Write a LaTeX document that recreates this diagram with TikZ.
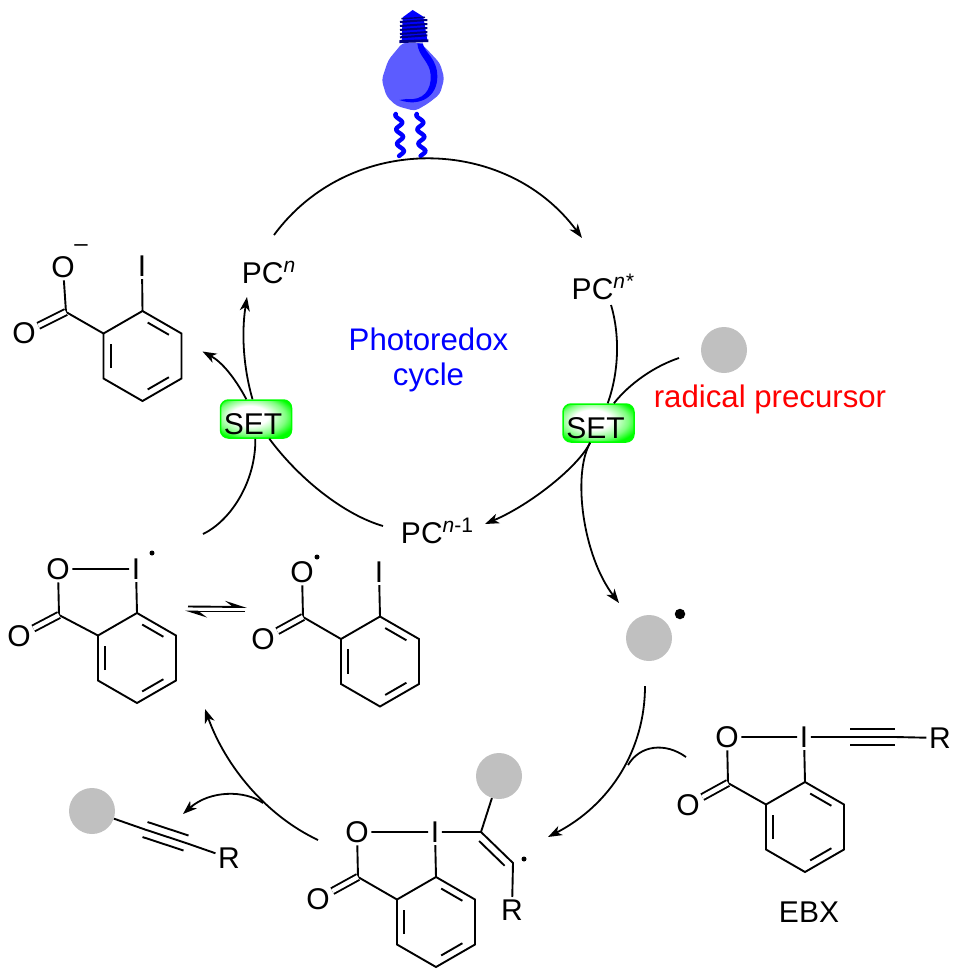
\documentclass[tikz,border=0pt]{standalone}
\usepackage{fontspec}
\setmainfont{Liberation Sans}
\usepackage{xcolor}
\usetikzlibrary{arrows.meta,calc}
\definecolor{blobgray}{RGB}{192,192,192}
\definecolor{bulbblue}{RGB}{92,92,255}
\newcommand{\labelfont}{\fontsize{30}{34}\selectfont}
\newcommand{\notefont}{\fontsize{31.2}{35}\selectfont}
\newcommand{\pcsup}[1]{\raisebox{11pt}{\fontsize{21}{21}\selectfont #1}}
\newcommand{\settext}{\raisebox{-15.25pt}[0pt][0pt]{SET}\kern6pt}
\pgfdeclareradialshading{setglow}{\pgfpoint{-6bp}{6bp}}{
  color(0bp)=(white); color(13bp)=(white); color(24bp)=(green!50!white);
  color(31bp)=(green); color(50bp)=(green)}
\tikzset{
  atom/.style={inner sep=2.5pt, font=\labelfont},
  pc state/.style={inner sep=1pt, font=\labelfont},
  caption/.style={anchor=base, inner sep=0pt, font=\labelfont},
  note/.style={caption, font=\notefont},
  blob/.style={circle, fill=blobgray, minimum size=46pt, inner sep=0pt},
  rad dot/.style={circle, fill=black, minimum size=5pt, inner sep=0pt},
  set box/.style={
    rectangle,
    rounded corners=8pt,
    minimum width=71pt,
    minimum height=38pt,
    inner sep=0pt,
    line width=1.5pt,
    draw=green,
    shading=setglow,
    font=\labelfont,
  },
  bond/.style={line width=1.9pt, line join=miter},
  inner bond/.style={bond, shorten <=6pt, shorten >=6pt},
  carbonyl/.style={line width=1.9pt, double, double distance=4.4pt},
  cycle line/.style={line width=1.8pt},
  cycle arrow/.style={cycle line, -{Stealth[length=14pt,width=10pt,inset=4pt]}},
  eq arrow/.style={line width=1.9pt, -{Stealth[harpoon,length=19pt,width=12pt,inset=8pt]}},
  light wave/.style={blue, line width=4.4pt, line cap=round, smooth},
}
% six carbons of a benzene ring, top vertex first
\newcommand{\benzring}[3]{
  \coordinate (#1o) at (#2,#3);
  \coordinate (#1a) at (#2,#3-45);
  \coordinate (#1b) at (#2+39,#3-22.5);
  \coordinate (#1c) at (#2+39,#3+22.5);
  \coordinate (#1d) at (#2,#3+45);
  \coordinate (#1e) at (#2-39,#3+22.5);
  \coordinate (#1f) at (#2-39,#3-22.5);
  \draw[bond] (#1a) -- (#1b) -- (#1c) -- (#1d) -- (#1e) -- (#1f) -- cycle;
  \draw[inner bond] ($(#1o)!.81!(#1a)$) -- ($(#1o)!.81!(#1b)$);
  \draw[inner bond] ($(#1o)!.81!(#1c)$) -- ($(#1o)!.81!(#1d)$);
  \draw[inner bond] ($(#1o)!.81!(#1e)$) -- ($(#1o)!.81!(#1f)$);
}
\begin{document}
\begin{tikzpicture}[x=1pt,y=-1pt]
  \useasboundingbox (0,0) rectangle (961,977);

  % lamp
  \begin{scope}[shift={(340,0)},x=.3333pt,y=-.3333pt]
    \fill[bulbblue,rounded corners=4pt] (188,128) -- (240,128) -- (265,152) -- (300,190) -- (313,235)
      -- (300,282) -- (265,310) -- (225,333) -- (170,318) -- (140,290) -- (125,240) -- (145,180) -- cycle;
    \fill[blue] (232,130) -- (248,130) .. controls (255,160) and (292,175) .. (292,230)
      .. controls (292,290) and (240,322) .. (178,300)
      -- (200,297) .. controls (250,303) and (275,270) .. (272,225)
      .. controls (270,185) and (235,170) .. (232,130) -- cycle;
    \fill[blue] (188,52) -- (218,30) -- (250,50) -- (262,120) -- (185,125) -- cycle;
    \foreach \yy in {66,78,90,102,112} {
      \draw[blue!50!black,line width=2pt] (180,\yy) -- (262,\yy-6);
    }
    \draw[blue!50!black,line width=2.8pt] (178,125) -- (265,122);
    \draw[blue!50!black,line width=1.4pt] (184,56) -- (255,52);
  \end{scope}
  \draw[light wave] plot[domain=0:1,samples=49] ({398.5+2.5*\x+3.2*cos(1059*\x-212)},{114+42*\x});
  \draw[light wave] plot[domain=0:1,samples=49] ({419.5+3*\x+3.2*cos(1059*\x-212)},{114+42*\x});

  % photocatalyst states
  \node[pc state] (pcn) at (268.5,272) {PC\pcsup{\itshape n}};
  \node[pc state] (pcx) at (602.5,287) {PC\pcsup{\itshape n*}};
  \node[pc state] (pcm) at (437,531) {PC\pcsup{{\itshape n}-1}};
  \node[set box] (setl) at (256,419) {\settext};
  \node[set box] (setr) at (598.5,423) {\settext};
  \node[note,blue] (photo) at (428.5,350) {Photoredox};
  \node[note,blue] (cyc) at (428.5,385) {cycle};
  \node[blob] (prec) at (724,350) {};
  \node[note,red] (precname) at (770,407) {radical precursor};
  \node[blob] (rad) at (649,638) {};
  \node[rad dot,minimum size=10.5pt] (raddot) at (680,614) {};

  % 2-iodobenzoate
  \benzring{io}{142.5}{356}
  \coordinate (iocar) at (66,312);
  \node[atom] (ioo) at (63,267) {O};
  \node[atom] (iooo) at (24,333) {O};
  \node[atom] (ioi) at (142,266) {I};
  \node[inner sep=0pt,font=\fontsize{24}{24}\selectfont] (iominus) at (81,248) {–};
  \draw[bond] (iof) -- (iocar) -- (ioo);
  \draw[carbonyl] (iocar) -- (iooo);
  \draw[bond] (ioa) -- (ioi);

  % cyclic iodanyl radical
  \benzring{bi}{137}{658}
  \coordinate (bicar) at (59,615);
  \node[atom] (bio) at (58,569) {O};
  \node[atom] (bioo) at (19,636) {O};
  \node[atom] (bii) at (136,569) {I};
  \node[rad dot] (bidot) at (152,553) {};
  \draw[bond] (bif) -- (bicar) -- (bio) -- (bii) -- (bia);
  \draw[carbonyl] (bicar) -- (bioo);

  % open aroyloxy radical
  \benzring{ar}{380}{661.5}
  \coordinate (arcar) at (303,617);
  \node[atom] (aro) at (302,572) {O};
  \node[atom] (aroo) at (263,639) {O};
  \node[atom] (ari) at (379,572) {I};
  \node[rad dot] (ardot) at (317,557) {};
  \draw[bond] (arf) -- (arcar) -- (aro);
  \draw[carbonyl] (arcar) -- (aroo);
  \draw[bond] (ara) -- (ari);

  % equilibrium
  \coordinate (eqa) at (188,606.5);
  \coordinate (eqb) at (247,607);
  \coordinate (eqc) at (245,611.5);
  \coordinate (eqd) at (185,611.5);
  \draw[eq arrow] (eqa) -- (eqb);
  \draw[eq arrow] (eqc) -- (eqd);

  % EBX
  \benzring{eb}{805}{827}
  \coordinate (ebcar) at (728,783);
  \node[atom] (ebo) at (727,737) {O};
  \node[atom] (eboo) at (688,805) {O};
  \node[atom] (ebi) at (804,737) {I};
  \node[atom] (ebr) at (940,738) {R};
  \coordinate (ebca) at (850,737);
  \coordinate (ebcb) at (895,737);
  \node[caption] (ebname) at (809,922) {EBX};
  \draw[bond] (ebf) -- (ebcar) -- (ebo) -- (ebi) -- (eba);
  \draw[carbonyl] (ebcar) -- (eboo);
  \draw[bond] (ebi) -- (ebca) -- (ebcb) -- (ebr);
  \draw[bond] ([yshift=8.3pt]ebca) -- ([yshift=8.3pt]ebcb);
  \draw[bond] ([yshift=-8.3pt]ebca) -- ([yshift=-8.3pt]ebcb);

  % vinyl adduct
  \benzring{vi}{436}{922}
  \coordinate (vicar) at (358,877);
  \node[atom] (vio) at (357,832) {O};
  \node[atom] (vioo) at (318,899) {O};
  \node[atom] (vii) at (435,832) {I};
  \coordinate (vica) at (481,832);
  \coordinate (vicb) at (513,863);
  \node[blob] (viblob) at (499,776) {};
  \node[atom] (vir) at (512,910) {R};
  \node[rad dot] (vidot) at (524,859) {};
  \draw[bond] (vif) -- (vicar) -- (vio) -- (vii) -- (via);
  \draw[carbonyl] (vicar) -- (vioo);
  \draw[bond] (vii) -- (vica) -- (vicb) -- (vir);
  \draw[bond] (vica) -- (viblob);
  \draw[bond,shorten <=5pt,shorten >=4pt] ([shift={(-5.5,5.5)}]vica) -- ([shift={(-5.5,5.5)}]vicb);

  % released alkyne
  \node[blob] (alblob) at (92,811) {};
  \node[atom] (alr) at (229,858) {R};
  \coordinate (alca) at (145,829.5);
  \coordinate (alcb) at (186,843);
  \draw[bond] (alblob) -- (alca) -- (alcb) -- (alr);
  \draw[bond] ([shift={(2.5,-7.5)}]alca) -- ([shift={(2.5,-7.5)}]alcb);
  \draw[bond] ([shift={(-2.5,7.5)}]alca) -- ([shift={(-2.5,7.5)}]alcb);

  % photoredox arcs
  \draw[cycle arrow] ([shift={(5.5,-37)}]pcn.center) .. controls (350,132) and (506,135)
    .. ([shift={(-20.5,-49)}]pcx.center);
  \draw[cycle line] ([shift={(8.5,18)}]pcx.center) .. controls (620,335) and (619,372) .. (setr.65);
  \draw[cycle arrow] (setr.247) .. controls (578,467) and (530,505) .. ([shift={(48,-7)}]pcm.center);
  \draw[cycle line] ([shift={(-45,8)}]prec.center) .. controls (655,366) and (630,383) .. (setr.52);
  \draw[cycle arrow] (setr.247) .. controls (572,475) and (583,556) .. ([shift={(-30,-35)}]rad.center);
  \draw[cycle line] ([shift={(-54,-5)}]pcm.center) .. controls (345,515) and (300,480) .. (setl.304);
  \draw[cycle arrow] (setl.100) .. controls (244,370) and (241,335) .. ([shift={(-21.5,25)}]pcn.center);
  \draw[cycle line] ([shift={(67,-35)}]bii.center) .. controls (232,520) and (256,480) .. (setl.268);
  \draw[cycle arrow] (setl.116) .. controls (235,378) and (222,362) .. ([shift={(21,18)}]iob);

  % radical addition and fragmentation
  \coordinate (joina) at (628,765);
  \coordinate (joinb) at (263,803);
  \draw[cycle arrow] ([shift={(-4,48)}]rad.center) .. controls (645,750) and (610,805)
    .. ([shift={(35,-26)}]vicb);
  \draw[cycle line] ([shift={(-41,20)}]ebo.center) .. controls (665,742) and (640,745) .. (joina);
  \draw[cycle arrow] ([shift={(-39,8)}]vio.center) .. controls (265,815) and (225,765)
    .. ([shift={(68,6)}]bid);
  \draw[cycle arrow] (joinb) .. controls (245,790) and (210,790) .. ([shift={(-3,-29)}]alcb);
\end{tikzpicture}
\end{document}
